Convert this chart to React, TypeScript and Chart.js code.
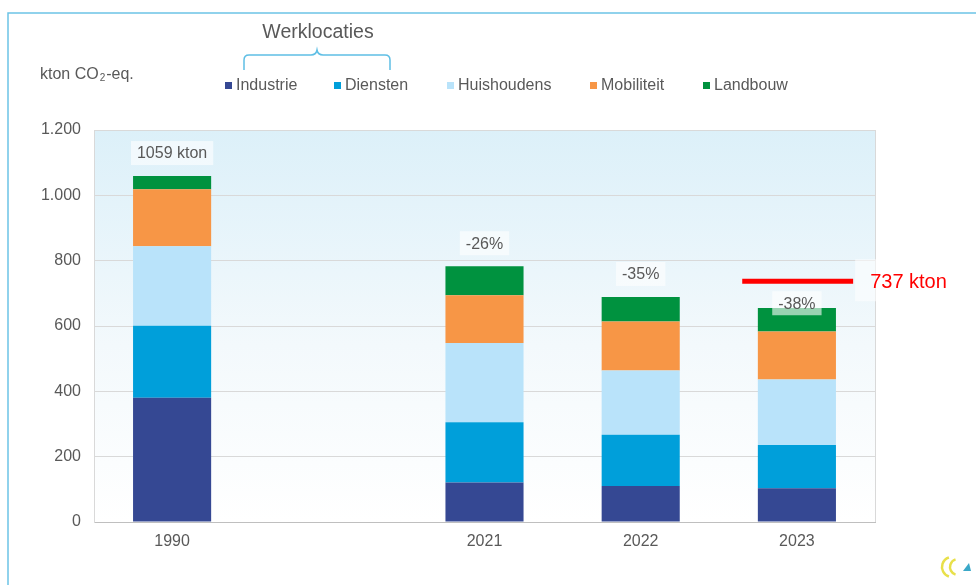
import React, { useEffect, useRef } from 'react';
import { Chart, registerables } from 'chart.js';

Chart.register(...registerables);

const categories = ['1990', '', '2021', '2022', '2023'];
const seriesNames = ['Industrie', 'Diensten', 'Huishoudens', 'Mobiliteit', 'Landbouw'];
const industrie = [380, null, 121, 110, 103];
const diensten = [221, null, 184, 157, 133];
const huishoudens = [243, null, 243, 197, 200];
const mobiliteit = [175, null, 146, 150, 147];
const landbouw = [40, null, 89, 75, 72];
const barLabels = ['1059 kton', '', '-26%', '-35%', '-38%'];
const targetValue = 737;
const targetLabel = '737 kton';
const targetCategoryIndex = 4;
const yMin = 0;
const yMax = 1200;
const yStep = 200;
const yTitle = ['kton CO', '2', '-eq.'];
const groupTitle = 'Werklocaties';
const seriesColors = ['#354893', '#009fda', '#b9e3fa', '#f79646', '#00923f'];

const FONT = '"Liberation Sans", Arial, sans-serif';
const TEXT = '#595959';

function fmt(v: number): string {
  const s = String(Math.round(v));
  return s.replace(/\B(?=(\d{3})+(?!\d))/g, '.');
}

const decorPlugin = {
  id: 'decor',
  beforeDraw(chart: any) {
    const { ctx, chartArea } = chart;
    ctx.save();
    ctx.fillStyle = '#ffffff';
    ctx.fillRect(0, 0, chart.width, chart.height);
    const g = ctx.createLinearGradient(0, chartArea.top, 0, chartArea.bottom);
    g.addColorStop(0, '#dcf0f9');
    g.addColorStop(0.55, '#f3f9fc');
    g.addColorStop(1, '#ffffff');
    ctx.fillStyle = g;
    ctx.fillRect(chartArea.left, chartArea.top, chartArea.right - chartArea.left, chartArea.bottom - chartArea.top);
    // outer frame
    ctx.strokeStyle = '#6cc4e6';
    ctx.lineWidth = 1.5;
    ctx.beginPath();
    ctx.moveTo(8, chart.height + 2);
    ctx.lineTo(8, 13);
    ctx.lineTo(chart.width + 2, 13);
    ctx.stroke();
    ctx.restore();
  },
  afterDraw(chart: any) {
    const { ctx, chartArea } = chart;
    const xs = chart.scales.x;
    const ys = chart.scales.y;
    ctx.save();
    // plot border right
    ctx.strokeStyle = '#d9d9d9';
    ctx.lineWidth = 1;
    ctx.beginPath();
    ctx.moveTo(Math.round(chartArea.right) + 0.5, chartArea.top);
    ctx.lineTo(Math.round(chartArea.right) + 0.5, chartArea.bottom);
    ctx.stroke();

    // target line
    const catW = (chartArea.right - chartArea.left) / categories.length;
    const tx = xs.getPixelForValue(targetCategoryIndex);
    const ty = ys.getPixelForValue(targetValue);
    const x1 = tx - catW * 0.35;
    const x2 = tx + catW * 0.36;
    ctx.fillStyle = 'rgba(255,255,255,0.55)';
    ctx.fillRect(x2 + 2, ty - 22, 22, 42);
    ctx.strokeStyle = '#ff0000';
    ctx.lineWidth = 5;
    ctx.beginPath();
    ctx.moveTo(x1, ty);
    ctx.lineTo(x2, ty);
    ctx.stroke();
    ctx.fillStyle = '#ff0000';
    ctx.font = `20px ${FONT}`;
    ctx.textAlign = 'left';
    ctx.textBaseline = 'middle';
    ctx.fillText(targetLabel, x2 + 17, ty + 1);

    // bar total labels
    ctx.font = `16px ${FONT}`;
    ctx.textAlign = 'center';
    ctx.textBaseline = 'middle';
    const series = [industrie, diensten, huishoudens, mobiliteit, landbouw];
    categories.forEach((_c, i) => {
      const label = barLabels[i];
      if (!label) return;
      let total = 0;
      series.forEach((s) => { total += (s[i] as number) || 0; });
      const top = ys.getPixelForValue(total);
      let cy = top - 23;
      if (Math.abs(cy - ty) < 14 && i === targetCategoryIndex) cy = ty + 22;
      const cx = xs.getPixelForValue(i);
      const w = ctx.measureText(label).width + 12;
      ctx.fillStyle = 'rgba(255,255,255,0.6)';
      ctx.fillRect(cx - w / 2, cy - 12, w, 24);
      ctx.fillStyle = TEXT;
      ctx.fillText(label, cx, cy + 1);
    });

    // y title
    ctx.textAlign = 'left';
    ctx.textBaseline = 'middle';
    ctx.fillStyle = TEXT;
    ctx.font = `16px ${FONT}`;
    let xx = 40;
    ctx.fillText(yTitle[0], xx, 75);
    xx += ctx.measureText(yTitle[0]).width + 1;
    ctx.font = `10px ${FONT}`;
    ctx.fillText(yTitle[1], xx, 78);
    xx += ctx.measureText(yTitle[1]).width + 1;
    ctx.font = `16px ${FONT}`;
    ctx.fillText(yTitle[2], xx, 75);

    // legend
    const legendX = [225, 334, 447, 590, 703];
    ctx.font = `16px ${FONT}`;
    seriesNames.forEach((name, i) => {
      ctx.fillStyle = seriesColors[i];
      ctx.fillRect(legendX[i], 82, 7, 7);
      ctx.fillStyle = TEXT;
      ctx.fillText(name, legendX[i] + 11, 86);
    });

    // group title and brace
    ctx.font = `19.5px ${FONT}`;
    ctx.textAlign = 'center';
    ctx.fillText(groupTitle, 318, 33);
    ctx.strokeStyle = '#5fbfe5';
    ctx.lineWidth = 1.5;
    ctx.beginPath();
    ctx.moveTo(244, 70);
    ctx.lineTo(244, 60);
    ctx.quadraticCurveTo(244, 55, 249, 55);
    ctx.lineTo(311, 55);
    ctx.quadraticCurveTo(316, 55, 317, 50);
    ctx.quadraticCurveTo(318, 55, 323, 55);
    ctx.lineTo(385, 55);
    ctx.quadraticCurveTo(390, 55, 390, 60);
    ctx.lineTo(390, 70);
    ctx.stroke();

    // small logo
    ctx.strokeStyle = '#e8e04a';
    ctx.lineWidth = 2.5;
    ctx.beginPath();
    ctx.arc(952, 567, 10, Math.PI * 0.6, Math.PI * 1.4);
    ctx.stroke();
    ctx.beginPath();
    ctx.arc(958, 567, 8, Math.PI * 0.6, Math.PI * 1.4);
    ctx.stroke();
    ctx.fillStyle = '#3aa8c8';
    ctx.beginPath();
    ctx.moveTo(963, 571);
    ctx.lineTo(971, 571);
    ctx.lineTo(969, 563);
    ctx.closePath();
    ctx.fill();
    ctx.restore();
  },
};

export default function App() {
  const ref = useRef<HTMLCanvasElement | null>(null);
  useEffect(() => {
    if (!ref.current) return;
    const series = [industrie, diensten, huishoudens, mobiliteit, landbouw];
    const chart = new Chart(ref.current, {
      type: 'bar',
      data: {
        labels: categories,
        datasets: series.map((d, i) => ({
          label: seriesNames[i],
          data: d,
          backgroundColor: seriesColors[i],
          borderWidth: 0,
          barPercentage: 0.5,
          categoryPercentage: 1,
          stack: 's',
        })),
      },
      options: {
        responsive: false,
        animation: false,
        devicePixelRatio: 1,
        layout: { padding: { left: 0, top: 130, right: 101, bottom: 23 } },
        plugins: {
          legend: { display: false },
          title: { display: false },
          tooltip: { enabled: false },
        },
        scales: {
          x: {
            stacked: true,
            grid: { display: false, drawTicks: false },
            border: { display: true, color: '#bfbfbf', width: 1 },
            ticks: { color: TEXT, font: { family: FONT, size: 16 }, padding: 10 },
            afterFit: (s: any) => { s.height = 40; },
          },
          y: {
            stacked: true,
            min: yMin,
            max: yMax,
            grid: { color: '#d9d9d9', lineWidth: 1, drawTicks: false },
            border: { display: true, color: '#d9d9d9' },
            ticks: {
              stepSize: yStep,
              color: TEXT,
              font: { family: FONT, size: 16 },
              padding: 13,
              callback: (v: any) => fmt(Number(v)),
            },
            afterFit: (s: any) => { s.width = 94; },
          },
        },
      },
      plugins: [decorPlugin],
    } as any);
    return () => chart.destroy();
  }, []);
  return (
    <div style={{ position: 'fixed', left: 0, top: 0, width: 976, height: 585 }}>
      <canvas ref={ref} width={976} height={585} style={{ display: 'block', width: 976, height: 585 }} />
    </div>
  );
}
